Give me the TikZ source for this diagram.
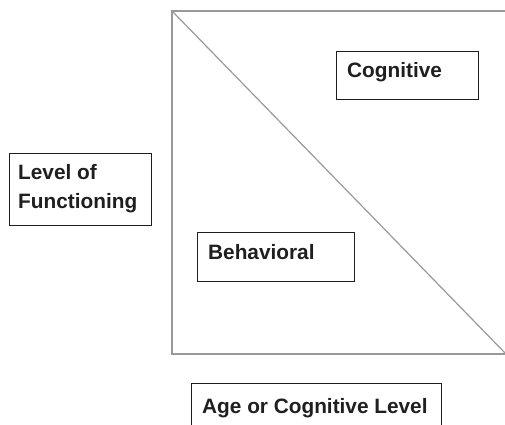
\documentclass[tikz,border=0pt]{standalone}
\usepackage{fontspec}
\setmainfont{Liberation Sans}
\begin{document}
\begin{tikzpicture}[x=1pt,y=-1pt,
  axisline/.style={draw=black!40, line width=1.2pt},
  box/.style={draw=black!88, line width=1pt, rectangle, inner sep=0pt, anchor=north west},
  lbl/.style={font=\bfseries\fontsize{20.8}{24}\selectfont, text=black!88, inner sep=0pt, anchor=base west}
]
\useasboundingbox (0,0) rectangle (505,424);
\fill[white] (0,0) rectangle (505,424);

% axes frame and diagonal
\coordinate (tl) at (172,11);
\coordinate (tr) at (507,11);
\coordinate (bl) at (172,354);
\coordinate (br) at (507,354);
\coordinate (de) at (507,355);
\draw[axisline] (tr) -- (tl) -- (bl) -- (br);
\draw[axisline] (tl) -- (de);

% region and axis labels
\node[box, minimum width=142, minimum height=48] (cog) at (336,51) {};
\node[lbl] (cogt) at (347,77.5) {Cognitive};

\node[box, minimum width=157, minimum height=49] (beh) at (197,232) {};
\node[lbl] (beht) at (208,259) {Behavioral};

\node[box, minimum width=142, minimum height=72] (lof) at (9,153) {};
\node[lbl] (loft1) at (18,179.5) {Level of};
\node[lbl] (loft2) at (18,208.5) {Functioning};

\node[box, minimum width=250, minimum height=50] (age) at (191,383) {};
\node[lbl] (aget) at (202,413.5) {Age or Cognitive Level};
\end{tikzpicture}
\end{document}
